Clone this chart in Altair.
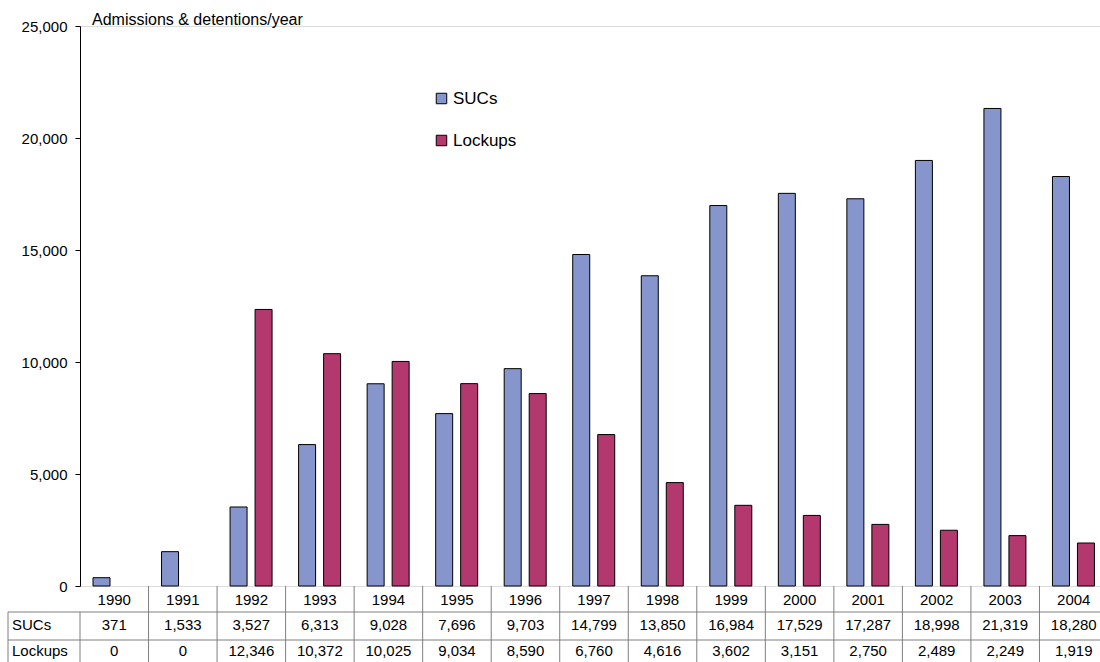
import altair as alt
import pandas as pd

# Yearly admissions (SUCs) and detentions (lockups)
years = ["1990", "1991", "1992", "1993", "1994", "1995", "1996", "1997",
         "1998", "1999", "2000", "2001", "2002", "2003", "2004"]
sucs = [371, 1533, 3527, 6313, 9028, 7696, 9703, 14799,
        13850, 16984, 17529, 17287, 18998, 21319, 18280]
lockups = [0, 0, 12346, 10372, 10025, 9034, 8590, 6760,
           4616, 3602, 3151, 2750, 2489, 2249, 1919]

series_names = ["SUCs", "Lockups"]
series_colors = ["#8696CC", "#B3386D"]

FONT = "Liberation Sans"

long_df = pd.DataFrame(
    [{"year": y, "series": "SUCs", "value": v} for y, v in zip(years, sucs)]
    + [{"year": y, "series": "Lockups", "value": v} for y, v in zip(years, lockups)]
)
table_df = pd.DataFrame({"year": years, "SUCs": sucs, "Lockups": lockups})

W, H = 1020, 560
x_scale = alt.Scale(domain=years, range=[0, 1028], paddingInner=0, paddingOuter=0)

bars = alt.Chart(long_df).transform_filter("datum.value > 0").mark_bar(
    stroke="black", strokeWidth=1
).encode(
    x=alt.X("year:N", scale=x_scale,
            axis=alt.Axis(labels=False, ticks=False, domain=True,
                          domainColor="black", domainWidth=1, title=None)),
    xOffset=alt.XOffset("series:N", sort=series_names,
                        scale=alt.Scale(domain=series_names, range=[13, 55],
                                        paddingInner=0.32, paddingOuter=0)),
    y=alt.Y("value:Q",
            scale=alt.Scale(domain=[0, 25000], nice=False),
            axis=alt.Axis(values=[0, 5000, 10000, 15000, 20000, 25000],
                          format=",.0f", title=None, grid=False,
                          domainColor="black", tickColor="black", tickSize=5,
                          labelFontSize=15, labelColor="black", labelFont=FONT,
                          labelPadding=8)),
    color=alt.Color("series:N", sort=series_names,
                    scale=alt.Scale(domain=series_names, range=series_colors),
                    legend=alt.Legend(title=None, orient="none", legendX=353, legendY=64,
                                      symbolType="square", symbolSize=110,
                                      symbolStrokeColor="black", symbolStrokeWidth=1,
                                      labelFontSize=17, labelFont=FONT, labelColor="black",
                                      labelOffset=3, rowPadding=24)),
)

# Axis title in the top-left corner
title = alt.Chart(pd.DataFrame({"t": ["Admissions & detentions/year"]})).mark_text(
    align="left", baseline="alphabetic", fontSize=16, font=FONT, color="black"
).encode(x=alt.value(12), y=alt.value(-1), text="t:N")

# Data table beneath the bars
grid_color = "#7f7f7f"

col_lines = alt.Chart(table_df).transform_filter("datum.year != '1990'").mark_rule(
    color=grid_color, strokeWidth=1
).encode(x=alt.X("year:N", scale=x_scale, axis=None, bandPosition=0),
         y=alt.value(H), y2=alt.value(640))

edge_lines = alt.Chart(pd.DataFrame({"x": [-72, 0]})).mark_rule(
    color=grid_color, strokeWidth=1
).encode(x=alt.X("x:Q", scale=None), y=alt.value(586), y2=alt.value(640))

row_lines = alt.Chart(pd.DataFrame({"y": [586, 614]})).mark_rule(
    color=grid_color, strokeWidth=1
).encode(y=alt.Y("y:Q", scale=None), x=alt.value(-72), x2=alt.value(1100))

text_style = dict(align="center", baseline="middle", fontSize=15, font=FONT, color="black")

year_row = alt.Chart(table_df).mark_text(**text_style).encode(
    x=alt.X("year:N", scale=x_scale, axis=None), y=alt.value(574), text="year:N")
suc_row = alt.Chart(table_df).mark_text(**text_style).encode(
    x=alt.X("year:N", scale=x_scale, axis=None), y=alt.value(599),
    text=alt.Text("SUCs:Q", format=","))
lock_row = alt.Chart(table_df).mark_text(**text_style).encode(
    x=alt.X("year:N", scale=x_scale, axis=None), y=alt.value(625),
    text=alt.Text("Lockups:Q", format=","))

row_labels = alt.Chart(pd.DataFrame({"label": ["SUCs", "Lockups"], "y": [599, 625]})).mark_text(
    align="left", baseline="middle", fontSize=15, font=FONT, color="black"
).encode(x=alt.value(-68), y=alt.Y("y:Q", scale=None), text="label:N")

chart = alt.layer(
    col_lines, edge_lines, row_lines, bars, title, year_row, suc_row, lock_row, row_labels
).properties(
    width=W, height=H,
    autosize=alt.AutoSizeParams(type="none"),
    padding={"left": 80, "top": 26, "right": 0, "bottom": 76},
).configure_view(stroke=None).configure(background="white")

chart.save("out.html", embed_options={"renderer": "svg", "actions": False})
